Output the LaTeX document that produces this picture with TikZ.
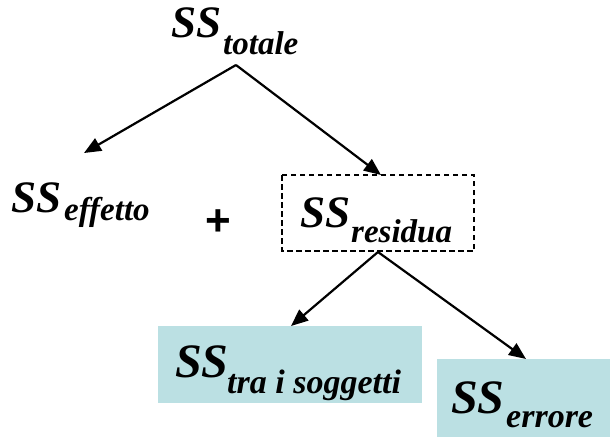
\documentclass[tikz,border=0pt]{standalone}
\usepackage{fontspec}
\setmainfont{Liberation Serif}
\newfontfamily\plusfont{Liberation Sans}
\usetikzlibrary{arrows.meta}
\definecolor{boxcyan}{RGB}{187,224,227}
\tikzset{
  bigss/.style={inner sep=0pt, anchor=base west, font=\fontsize{45}{45}\selectfont\bfseries\itshape},
  subss/.style={inner sep=0pt, anchor=base west, font=\fontsize{33}{33}\selectfont\bfseries\itshape},
  bigssl/.style={bigss, font=\fontsize{48}{48}\selectfont\bfseries\itshape},
  subssl/.style={subss, font=\fontsize{34}{34}\selectfont\bfseries\itshape},
  link/.style={line width=2.2pt, -{Triangle[length=17pt,width=14pt]}},
  dashbox/.style={draw, line width=1.5pt, dash pattern=on 5.5pt off 3.5pt},
  cyanbox/.style={fill=boxcyan, draw=none}
}
\begin{document}
\begin{tikzpicture}[x=1pt,y=-1pt]
\useasboundingbox (0,0) rectangle (610,437);

% shaded boxes and dashed frame
\path[cyanbox] (158,326) rectangle (422,403);
\path[cyanbox] (437,359) rectangle (610,437);
\draw[dashbox] (282,175) rectangle (474,251);

% labels
\node[bigss] (totS) at (171,37) {SS};
\node[subss] (totI) at (223,54) {totale};
\node[bigss] (effS) at (11,212) {SS};
\node[subss] (effI) at (64,220) {effetto};
\node[inner sep=0pt, font=\fontsize{44}{44}\selectfont\plusfont\bfseries] (plus) at (218.5,223) {+};
\node[bigss] (resS) at (300,227) {SS};
\node[subss] (resI) at (351,242) {residua};
\node[bigssl] (traS) at (175,377) {SS};
\node[subssl] (traI) at (227,393) {tra i soggetti};
\node[bigssl] (errS) at (451,413) {SS};
\node[subssl] (errI) at (506,427) {errore};

% branching points and arrow ends
\coordinate (topfork) at (236,65);
\coordinate (effend) at (84,153);
\coordinate (resend) at (381,175);
\coordinate (resfork) at (378,252);
\coordinate (traend) at (291,326);
\coordinate (errend) at (526,359);

\draw[link] (topfork) -- (effend);
\draw[link] (topfork) -- (resend);
\draw[link] (resfork) -- (traend);
\draw[link] (resfork) -- (errend);
\end{tikzpicture}
\end{document}
